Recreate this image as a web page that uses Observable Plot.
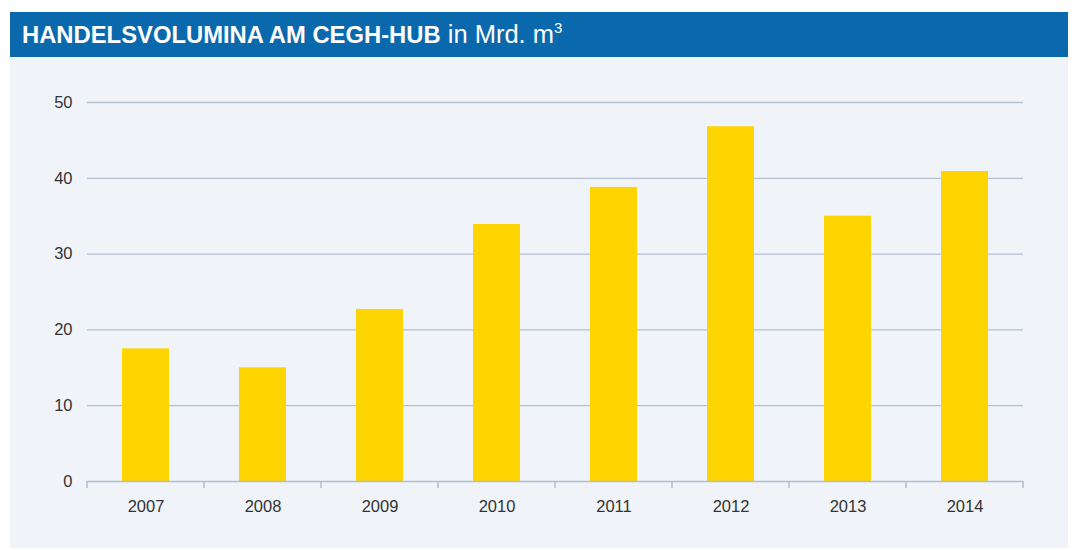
<!DOCTYPE html>
<html>
<head>
<meta charset="utf-8">
<script src="https://cdn.jsdelivr.net/npm/d3@7"></script>
<script src="https://cdn.jsdelivr.net/npm/@observablehq/plot@0.6"></script>
<style>
  html, body { margin: 0; padding: 0; background: #ffffff; }
  #wrap { position: relative; width: 1075px; height: 550px; overflow: hidden; }
  #panel { position: absolute; left: 10px; top: 57px; width: 1058px; height: 491px; background: #f0f4f9; }
  #header { position: absolute; left: 10px; top: 12px; width: 1058px; height: 45px; background: #0a69ad; color: #fff;
    font-family: "Liberation Sans", Arial, sans-serif; line-height: 45px; white-space: nowrap; }
  #header span.t { position: absolute; left: 12px; top: 0px; font-size: 25.5px; }
  #header b { font-weight: bold; font-size: 23.8px; }
  #header sup { font-size: 15px; vertical-align: 0; position: relative; top: -10px; }
  #chart { position: absolute; left: 0; top: 57px; }
</style>
</head>
<body>
<div id="wrap">
  <div id="panel"></div>
  <div id="header"><span class="t"><b>HANDELSVOLUMINA AM CEGH-HUB</b> in Mrd. m<sup>3</sup></span></div>
  <div id="chart"></div>
</div>
<script>
const years = ["2007", "2008", "2009", "2010", "2011", "2012", "2013", "2014"];
const volumes = [17.5, 15.0, 22.7, 33.9, 38.8, 46.8, 35.0, 40.9];
const yTicks = [0, 10, 20, 30, 40, 50];

const data = years.map((year, i) => ({year, value: volumes[i]}));

const boundaryTicks = (index, scales, values, dimensions) => {
  const x = scales.x, y = scales.y;
  const bw = x.bandwidth ? x.bandwidth() : 0;
  const step = x.step ? x.step() : bw;
  const y0 = y(0);
  const g = d3.create("svg:g");
  const xs = years.map(v => x(v) - (step - bw) / 2);
  xs.push(x(years[years.length - 1]) + bw + (step - bw) / 2);
  g.selectAll("line").data(xs).join("line")
    .attr("x1", d => d).attr("x2", d => d)
    .attr("y1", y0).attr("y2", y0 + 7)
    .attr("stroke", "#b0bccf").attr("stroke-width", 1.5);
  return g.node();
};

const chart = Plot.plot({
  width: 1075,
  height: 491,
  marginLeft: 87,
  marginRight: 52,
  marginTop: 45,
  marginBottom: 67,
  style: {background: "transparent", fontFamily: "'Liberation Sans', Arial, sans-serif", fontSize: "16.5px", color: "#333"},
  x: {domain: years, paddingInner: 0.6, paddingOuter: 0.3, align: 0.5, label: null},
  y: {domain: [0, 50], label: null},
  marks: [
    Plot.ruleY(yTicks.filter(d => d > 0), {stroke: "#b4bfd0", strokeWidth: 1.3}),
    Plot.barY(data, {x: "year", y: "value", fill: "#fed500"}),
    Plot.ruleY([0], {stroke: "#b0bccf", strokeWidth: 1.5}),
    boundaryTicks,
    Plot.axisX({tickSize: 0, tickPadding: 19, fill: "#333", fontSize: 16.5, label: null}),
    Plot.axisY({ticks: yTicks, tickSize: 0, tickPadding: 15, fill: "#333", fontSize: 16.5, label: null})
  ]
});
document.getElementById("chart").appendChild(chart);
</script>
</body>
</html>
